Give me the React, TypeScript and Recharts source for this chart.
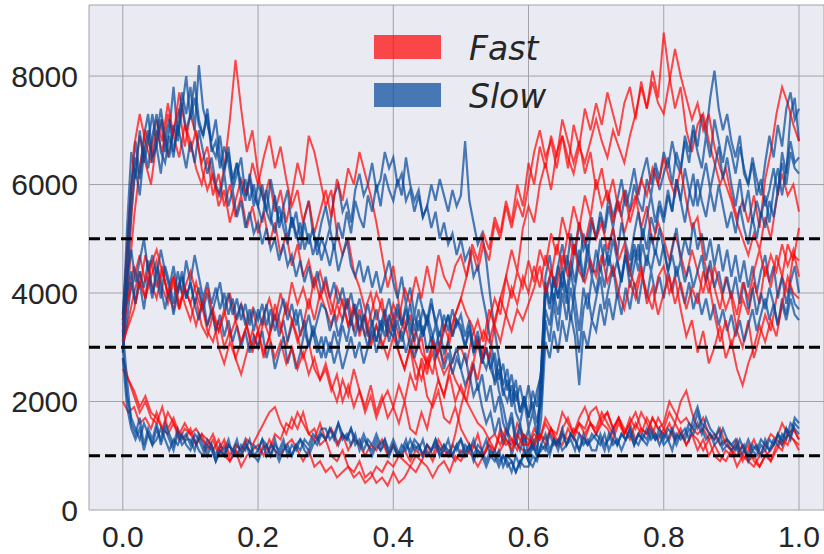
import React from "react";
import {
  LineChart,
  Line,
  XAxis,
  YAxis,
  CartesianGrid,
  ReferenceLine,
} from "recharts";

// slow runs: 161 samples each over t = 0..1 (16 per row = 0.1 of t)
const slow1 = [
  3100, 4500, 5900, 6800, 6200, 6900, 7300, 6500, 6700, 7200, 6600, 7000, 7800, 6900, 7400, 8000,
  7200, 7600, 7100, 6900, 7300, 6600, 6800, 6300, 6700, 6400, 5900, 6200, 6500, 5800, 6100, 5600,
  6000, 5800, 5500, 6100, 5700, 5300, 5600, 5900, 5200, 5500, 5000, 5400, 5700, 5100, 4900, 5300,
  5600, 5200, 5800, 6000, 5500, 5700, 5300, 5900, 6200, 5800, 6000, 6400, 5900, 6100, 6600, 6300,
  6500, 6000, 6200, 5700, 5900, 5500, 5800, 5400, 5600, 6000, 5700, 6100, 5800, 5500, 5900, 5600,
  5800, 6800, 5700, 5300, 4900, 5100, 4600, 3900, 3300, 2800, 2300, 2600, 2000, 2400, 1800, 2100,
  1700, 2200, 1900, 2600, 4300, 4700, 4100, 4500, 4900, 4400, 5100, 4700, 5300, 4800, 5000, 5400,
  5000, 5500, 5200, 5800, 5400, 5700, 6100, 5600, 5900, 6300, 5800, 6200, 6500, 6000, 6400, 6100,
  6600, 6300, 6800, 6400, 6200, 6900, 6600, 7100, 6700, 7300, 6900, 7600, 8100, 7400, 7000, 7300,
  6800, 6500, 6900, 6200, 6000, 6400, 5800, 6100, 5600, 5900, 6300, 5800, 6600, 6200, 7300, 7600,
  6800,
];
const slow2 = [
  3400, 5200, 6600, 6100, 7000, 6400, 6800, 7300, 6700, 6200, 6900, 6500, 7100, 6800, 7500, 7000,
  7300, 7900, 7200, 6900, 7400, 6700, 6500, 6900, 6300, 6600, 6100, 6400, 6000, 5700, 6200, 5800,
  5600, 6000, 5500, 5300, 5800, 5200, 5500, 5000, 5400, 5100, 4800, 5300, 4900, 5200, 4700, 5000,
  4800, 4500, 4900, 4400, 4700, 5000, 4500, 4300, 4600, 4200, 4500, 4100, 4400, 4000, 4300, 4600,
  4200, 3900, 4300, 3800, 4100, 3600, 4000, 3700, 3500, 3900, 3400, 3700, 3300, 3600, 3200, 3500,
  3300, 3000, 3400, 2900, 3100, 2700, 3000, 2600, 2400, 2800, 2200, 2000, 2300, 1800, 1600, 2000,
  1500, 1800, 1400, 2400, 3900, 4300, 3800, 4500, 4100, 4700, 4300, 4900, 4500, 5100, 4700, 5300,
  5000, 5400, 5100, 5600, 5200, 5700, 5400, 5900, 5500, 6000, 5700, 5500, 6100, 5800, 6300, 5900,
  6200, 6500, 6000, 6600, 6300, 6800, 6400, 7000, 6600, 6300, 6900, 6500, 7200, 6800, 6400, 6900,
  6600, 6200, 6700, 6300, 6000, 6500, 6100, 5800, 6400, 6900, 6500, 7100, 6700, 7400, 7700, 7200,
  7400,
];
const slow3 = [
  2900, 4100, 5500, 6300, 5800, 6600, 7000, 6400, 6900, 7400, 6800, 7200, 6600, 7100, 7700, 7300,
  7800, 7000, 8200, 7400, 7100, 6800, 7200, 6500, 6200, 6700, 6000, 6400, 5800, 6100, 5700, 6000,
  5600, 5300, 5900, 5400, 5100, 5600, 5200, 4900, 5400, 5000, 5300, 4800, 5100, 4700, 5000, 4600,
  4900, 5200, 4800, 5300, 5000, 5500, 5100, 5700, 5400, 5200, 5800, 5500, 6000, 5600, 6200, 5900,
  5700, 6100, 5800, 6500, 6000, 5700, 5900, 5400, 5600, 5200, 5500, 5000, 5300, 4900, 5100, 4700,
  5000, 4600, 4800, 4300, 4500, 4000, 3600, 3100, 2700, 2200, 1900, 1500, 1800, 1300, 1600, 1200,
  1500, 1100, 1400, 2000, 3700, 3400, 4000, 3600, 4200, 3800, 4400, 3900, 3300, 4100, 3700, 4300,
  4000, 4500, 4100, 4700, 4300, 4600, 4200, 4800, 4400, 4900, 4600, 5200, 4800, 5400, 5100, 5600,
  5300, 5800, 5500, 6100, 5700, 6300, 5900, 5600, 6100, 5700, 5400, 5900, 5500, 6000, 5600, 5200,
  5500, 5100, 5600, 5200, 4900, 5400, 5000, 5500, 5200, 5700, 5400, 5900, 6400, 6000, 6600, 6300,
  6200,
];
const slow4 = [
  3600, 4800, 6000, 6500, 6100, 6700, 6300, 6900, 7300, 6600, 6400, 6900, 6500, 7100, 6700, 6300,
  6800, 6400, 7000, 6600, 6200, 6500, 6000, 5800, 6200, 5600, 5900, 5400, 5700, 5200, 5500, 5100,
  5300, 4900, 5200, 4800, 5000, 4600, 4900, 4500, 4700, 4300, 4600, 4200, 4500, 4100, 4400, 4000,
  4300, 3900, 4200, 3800, 4100, 3700, 4000, 3600, 3900, 3500, 3800, 3400, 3700, 3300, 3600, 3900,
  3500, 3800, 3400, 3700, 3200, 3600, 3300, 3700, 3400, 3800, 3500, 3200, 3600, 3300, 3700, 3400,
  3600, 3200, 3500, 3000, 3300, 2800, 2600, 2900, 2300, 2600, 2100, 2400, 1900, 2200, 1800, 2100,
  1700, 2000, 1600, 2100, 3500, 3100, 3800, 3300, 4000, 3500, 4100, 3600, 2900, 3700, 4000, 3500,
  3900, 4300, 3700, 4100, 4500, 3900, 4300, 4700, 4100, 4500, 4900, 4300, 4700, 4400, 4800, 4500,
  4900, 4400, 4800, 5200, 4600, 5000, 4700, 5300, 4800, 5100, 4600, 5000, 4500, 4900, 4400, 4800,
  4300, 4700, 4200, 4600, 4100, 4500, 4000, 4400, 4700, 4200, 4500, 3900, 4300, 3800, 4200, 4500,
  4000,
];
const slow5 = [
  3000, 3500, 4200, 3800, 4400, 4100, 4600, 4000, 4300, 3900, 4500, 4200, 3800, 4400, 4000, 4600,
  4200, 4700, 4300, 3900, 4200, 3800, 4100, 3700, 4000, 3600, 3900, 3500, 3800, 3400, 3700, 3300,
  3700, 3400, 3800, 3300, 3600, 3200, 3500, 3100, 3400, 3700, 3200, 3500, 3000, 3300, 2900, 3200,
  2800, 3100, 2700, 3000, 2600, 2900, 3200, 2800, 3100, 2700, 3000, 3300, 2900, 3200, 3500, 3100,
  3400, 3000, 3300, 2900, 3200, 2800, 3100, 3400, 2900, 3200, 2800, 3000, 2600, 2900, 2500, 2800,
  2600, 2300, 2500, 2100, 2300, 1900, 1600, 1800, 1400, 1700, 1200, 1500, 1000, 1300, 1100, 1400,
  1000, 1300, 1100, 1700, 3100, 2800, 3300, 2900, 3500, 3100, 3600, 3200, 2300, 3300, 3000, 3500,
  3300, 3800, 3400, 3900, 3500, 4000, 3600, 4100, 3700, 4200, 3800, 4300, 3900, 4400, 4000, 4300,
  3900, 4400, 4000, 4500, 4100, 3800, 4200, 3700, 4000, 3600, 3900, 3500, 3800, 3400, 3700, 3300,
  3600, 3200, 3500, 3100, 3400, 3700, 3300, 3600, 3900, 3500, 3800, 3400, 3900, 3600, 4100, 3800,
  3700,
];
const slow6 = [
  3300, 4000, 4400, 3800, 4200, 3700, 4300, 3900, 4500, 4100, 3700, 4100, 3600, 4000, 4400, 3900,
  4200, 3800, 3500, 3900, 3400, 3700, 3300, 3600, 3200, 3500, 3100, 3400, 3000, 3300, 2900, 3200,
  3000, 3300, 2800, 3100, 2600, 2900, 3200, 2700, 3000, 2600, 2900, 3300, 3000, 3400, 3100, 2800,
  3200, 2900, 3300, 3000, 3400, 3100, 3500, 3200, 3600, 3300, 3000, 3400, 3100, 3500, 3200, 3600,
  3300, 3700, 3400, 3800, 3400, 3100, 3500, 3200, 3600, 3300, 3000, 3300, 2900, 3100, 2700, 3000,
  2600, 2900, 2400, 2700, 2200, 2500, 2000, 2300, 1800, 2100, 1600, 1400, 1700, 1200, 1500, 1100,
  900, 1200, 1000, 2600, 4200, 3800, 4300, 3900, 4400, 4000, 3500, 4100, 4600, 4200, 4700, 4300,
  4800, 4400, 4900, 4500, 5000, 4600, 4200, 4700, 4300, 4800, 4400, 4900, 4500, 5100, 4700, 5200,
  4800, 4400, 4700, 4300, 4600, 4200, 4500, 4100, 4400, 4700, 4200, 4600, 4100, 4400, 4000, 4300,
  3900, 4300, 3800, 4200, 3700, 4100, 3600, 4000, 3700, 4100, 3800, 3400, 3800, 3500, 3900, 3600,
  3500,
];
const slow7 = [
  3500, 4300, 4800, 4200, 4600, 5000, 4400, 4700, 4300, 4800, 4400, 4100, 4500, 4000, 4300, 3900,
  4200, 3800, 4100, 3700, 4000, 3600, 3900, 4200, 3700, 4000, 3600, 3900, 3500, 3800, 3400, 3700,
  3500, 3800, 3400, 3700, 3300, 3600, 3900, 3500, 3800, 3400, 3700, 3300, 3600, 3200, 3500, 3800,
  3700, 3300, 3600, 3200, 3500, 3900, 3400, 3800, 3300, 3600, 3200, 3500, 3100, 3400, 3700, 3300,
  3200, 3500, 3100, 3400, 3800, 3300, 3700, 3200, 3500, 3100, 3400, 3000, 3300, 3600, 3200, 3500,
  3400, 3000, 3300, 2900, 3200, 2700, 3000, 2600, 2900, 2400, 2700, 2200, 2500, 2000, 2300, 1900,
  2300, 1800, 2200, 2500, 4100, 3700, 4300, 3900, 4500, 4000, 4600, 4200, 4800, 4300, 4900, 4400,
  4400, 5000, 4500, 4800, 5200, 4700, 5300, 4900, 4600, 5100, 5500, 5000, 5400, 5800, 5300, 5700,
  5400, 5900, 5500, 6100, 5700, 5300, 5800, 6200, 5600, 6000, 6400, 5900, 6300, 6700, 6100, 6500,
  6000, 5600, 6100, 5500, 5900, 5300, 5700, 5400, 5800, 5300, 5900, 6300, 5800, 6300, 6800, 6400,
  6500,
];
const slow8 = [
  3000, 2100, 1700, 1500, 1300, 1600, 1400, 1200, 1500, 1300, 1600, 1400, 1200, 1500, 1300, 1400,
  1200, 1400, 1300, 1100, 1300, 1200, 1000, 1200, 1100, 1300, 1000, 1200, 1100, 1300, 1000, 1200,
  1100, 1300, 1200, 1000, 1200, 1100, 1300, 1000, 1200, 1100, 1300, 1200, 1100, 1300, 1200, 1400,
  1300, 1500, 1400, 1200, 1400, 1300, 1500, 1300, 1200, 1400, 1200, 1100, 1300, 1100, 1200, 1000,
  1200, 1000, 1200, 1100, 1300, 1100, 1200, 1000, 1200, 1100, 1300, 1100, 1200, 1000, 1200, 1100,
  1300, 1100, 1200, 1000, 1200, 1100, 900, 1100, 1000, 800, 1000, 900, 700, 1000, 800, 1100,
  900, 800, 1000, 1100, 1200, 1000, 1300, 1100, 1400, 1200, 1300, 1100, 1400, 1200, 1300, 1100,
  1100, 1400, 1200, 1300, 1500, 1200, 1400, 1300, 1500, 1200, 1400, 1300, 1200, 1400, 1300, 1500,
  1300, 1500, 1400, 1200, 1400, 1300, 1500, 1400, 1600, 1400, 1700, 1500, 1400, 1300, 1500, 1300,
  1200, 1100, 1300, 1100, 1000, 1200, 1100, 1300, 1200, 1100, 1300, 1200, 1400, 1300, 1600, 1500,
  1400,
];
const slow9 = [
  3300, 2400, 1600, 1400, 1700, 1200, 1500, 1300, 1600, 1200, 1500, 1300, 1100, 1400, 1200, 1300,
  1300, 1100, 1400, 1200, 1000, 1200, 900, 1100, 1000, 1200, 1100, 1000, 1200, 1100, 1300, 1000,
  1100, 1300, 1000, 1200, 1100, 900, 1100, 1200, 1000, 1200, 1100, 1300, 1200, 1400, 1300, 1500,
  1500, 1300, 1400, 1600, 1300, 1400, 1200, 1400, 1100, 1300, 1200, 1000, 1200, 1100, 1300, 1000,
  1200, 1000, 1100, 1300, 1000, 1200, 1100, 1300, 1000, 1100, 1200, 1000, 1100, 1300, 1000, 1200,
  1300, 1000, 1200, 900, 1100, 1000, 800, 1000, 900, 1100, 800, 1000, 900, 700, 900, 800,
  800, 1000, 900, 1200, 1100, 1400, 1200, 1300, 1100, 1200, 1400, 1300, 1100, 1300, 1200, 1400,
  1300, 1200, 1400, 1100, 1300, 1200, 1400, 1300, 1500, 1300, 1200, 1400, 1300, 1500, 1300, 1400,
  1200, 1300, 1100, 1400, 1300, 1400, 1600, 1500, 1800, 1500, 1300, 1400, 1200, 1300, 1100, 1200,
  1100, 1200, 1000, 1100, 1300, 1100, 1200, 1000, 1300, 1100, 1200, 1400, 1200, 1500, 1300, 1600,
  1500,
];
const slow10 = [
  2800, 1900, 1500, 1300, 1500, 1100, 1400, 1200, 1300, 1500, 1300, 1100, 1300, 1200, 1400, 1200,
  1100, 1300, 1100, 1000, 1200, 1100, 900, 1100, 1000, 1200, 1100, 1300, 1000, 1200, 1100, 1000,
  900, 1100, 1200, 1000, 1300, 1000, 1200, 1100, 1000, 1200, 1300, 1100, 1000, 1200, 1300, 1400,
  1300, 1500, 1300, 1600, 1400, 1300, 1500, 1200, 1300, 1100, 1300, 1200, 1400, 1200, 1300, 1100,
  1300, 1100, 1000, 1200, 1100, 1300, 1200, 1000, 1200, 1100, 1300, 1000, 1200, 1100, 1000, 1200,
  1000, 1200, 1100, 1300, 1000, 1100, 1300, 1000, 1100, 900, 1000, 800, 900, 700, 900, 1000,
  1100, 1200, 1000, 1200, 1400, 1100, 1300, 1200, 1500, 1200, 1400, 1300, 1100, 1400, 1200, 1300,
  1400, 1300, 1100, 1400, 1200, 1300, 1100, 1300, 1400, 1200, 1400, 1300, 1500, 1300, 1400, 1200,
  1400, 1300, 1500, 1300, 1400, 1500, 1300, 1700, 1900, 1600, 1500, 1400, 1300, 1500, 1200, 1300,
  1200, 1300, 1100, 1200, 900, 1100, 1000, 1200, 1100, 1300, 1200, 1400, 1300, 1500, 1400, 1700,
  1600,
];

// fast runs: 121 samples each over t = 0..1 (12 per row = 0.1 of t)
const fast1 = [
  3200, 4600, 6100, 6900, 6400, 6000, 6800, 7200, 6500, 7000, 7400, 6700,
  7300, 6900, 6400, 6700, 6100, 5800, 6300, 7200, 8300, 7400, 6600, 7000,
  6200, 5700, 6100, 5500, 5900, 5300, 5800, 6400, 6000, 6900, 6600, 6100,
  5600, 5900, 5100, 4700, 5000, 4400, 4100, 3700, 4000, 3500, 3900, 3200,
  3500, 2900, 2600, 3000, 2400, 2700, 2100, 1900, 2200, 1700, 1600, 1900,
  1500, 1300, 1100, 1400, 1000, 1200, 1100, 1500, 1300, 1200, 1600, 1400,
  1200, 1500, 1300, 1700, 1500, 1400, 1800, 1600, 1400, 1700, 1900, 1600,
  1500, 1800, 1600, 1400, 1700, 1500, 1300, 1600, 1400, 1700, 1500, 1300,
  1500, 1300, 1600, 1400, 1200, 1400, 1300, 1100, 1300, 1000, 900, 1100,
  1000, 1200, 900, 1100, 1300, 1000, 1200, 1400, 1300, 1600, 1400, 1500,
  1300,
];
const fast2 = [
  2900, 4200, 5400, 6300, 7000, 6600, 7200, 6800, 7500, 6900, 7700, 7100,
  6600, 7000, 6300, 5900, 6200, 5600, 5900, 5300, 5700, 6100, 5800, 6400,
  6000, 6500, 6900, 6300, 6700, 6100, 5600, 5900, 5300, 5700, 5100, 5500,
  5900, 5400, 6100, 5700, 6300, 6000, 6600, 6200, 5800, 5300, 4700, 4100,
  4500, 3800, 3300, 3600, 2900, 3200, 2600, 2900, 2400, 2100, 2500, 2000,
  2300, 2000, 2600, 3100, 2800, 3500, 3900, 3600, 4300, 4800, 4400, 5200,
  5600, 5300, 6000, 6400, 5900, 6600, 6900, 6300, 7100, 6700, 7400, 7000,
  7500, 7100, 7700, 7300, 6900, 7500, 7800, 7200, 7900, 7400, 8100, 7600,
  8800, 8000, 7400, 7800, 7000, 6600, 7100, 7300, 6800, 6400, 6000, 6300,
  5800, 5400, 5700, 5300, 5800, 5200, 6100, 6600, 7300, 7800, 7500, 7100,
  6800,
];
const fast3 = [
  3500, 5200, 6700, 7300, 6800, 6400, 7000, 6600, 7300, 6900, 6500, 7100,
  6800, 6300, 6000, 6500, 5800, 6200, 5600, 6000, 5400, 5800, 5200, 5600,
  5100, 5500, 4900, 5300, 4700, 5100, 4500, 4900, 4300, 4600, 4100, 4400,
  4000, 3600, 4100, 3800, 3400, 3800, 3200, 3600, 3000, 3400, 3100, 2800,
  3200, 2900, 2600, 3000, 2700, 2400, 2800, 2500, 3100, 2700, 3300, 3600,
  3900, 4300, 4800, 4400, 4900, 4600, 5300, 5000, 5600, 5200, 5700, 5400,
  6000, 6600, 7000, 6500, 6800, 6300, 6900, 6500, 6200, 6700, 6400, 6800,
  7200, 6800, 6500, 7000, 6700, 6400, 6900, 7300, 7800, 7400, 7900, 7500,
  7300, 7900, 8500, 8000, 7600, 7200, 7500, 7000, 7300, 6700, 6300, 6000,
  5700, 5300, 5000, 4700, 5100, 4800, 5400, 5000, 5700, 6200, 5800, 6000,
  5500,
];
const fast4 = [
  3300, 4000, 4500, 4100, 4700, 4200, 3900, 4400, 4000, 3700, 4200, 3800,
  3500, 3900, 3400, 3200, 3600, 3000, 2700, 3100, 2800, 2500, 2900, 3300,
  3000, 3500, 3200, 3800, 3400, 3000, 3500, 3200, 2800, 3100, 2600, 2400,
  2700, 2300, 2000, 2400, 2100, 2600, 2200, 1900, 2300, 1800, 2100, 1700,
  1900, 1600, 2000, 1500, 1400, 1800, 1500, 2000, 2400, 2100, 2600, 2900,
  3000, 2700, 3200, 3500, 3100, 3700, 3400, 3900, 4300, 3900, 4400, 4100,
  4600, 4200, 4800, 4500, 5100, 4700, 5400, 5000, 5600, 5200, 5800, 5400,
  6100, 5600, 5900, 5300, 5700, 5100, 5500, 5800, 5200, 5600, 4900, 5300,
  5000, 4600, 5100, 4700, 4300, 4800, 4400, 4000, 4500, 4100, 3700, 4300,
  3900, 3300, 3000, 3500, 2800, 3200, 3600, 3300, 3900, 4300, 4000, 4700,
  4600,
];
const fast5 = [
  3000, 3500, 4000, 4400, 3900, 4300, 4600, 4100, 3800, 4200, 3700, 4100,
  3800, 4200, 3800, 3400, 3700, 3300, 3600, 4000, 3500, 3800, 3400, 3700,
  3300, 3600, 3900, 3500, 4000, 3600, 4200, 3800, 4100, 3700, 4300, 3900,
  4200, 3800, 3500, 3900, 3400, 3700, 3300, 3600, 3100, 3400, 3000, 3300,
  3600, 3200, 3500, 3000, 3300, 2900, 2700, 3100, 2800, 2500, 2700, 2400,
  2200, 2000, 1800, 1600, 1500, 1300, 1400, 1200, 1500, 1300, 1200, 1100,
  1100, 1300, 1400, 1200, 1500, 1300, 1200, 1500, 1300, 1600, 1400, 1600,
  1400, 1700, 1800, 1500, 1700, 1400, 1600, 1800, 1500, 1400, 1700, 1500,
  1600, 2000, 1800, 1600, 1700, 1500, 1400, 1500, 1300, 1400, 1200, 1300,
  1100, 1000, 1200, 900, 1000, 800, 1000, 1100, 1300, 1200, 1400, 1300,
  1100,
];
const fast6 = [
  3600, 3900, 4300, 4700, 4200, 4600, 4100, 4500, 3900, 4300, 3700, 4100,
  3800, 3400, 3800, 3300, 3100, 3500, 3000, 3300, 2800, 3100, 3400, 2900,
  3300, 2800, 3200, 3600, 3300, 3800, 3500, 3100, 3400, 3900, 3500, 4000,
  3700, 3400, 3800, 3500, 3900, 3300, 3700, 3200, 3600, 4000, 3700, 3400,
  3800, 3500, 4100, 3800, 4300, 3900, 4500, 4000, 4700, 4300, 4100, 4500,
  4700, 4300, 4900, 4600, 5100, 4800, 5400, 5100, 5700, 5300, 6000, 5600,
  6400, 6000, 6700, 6300, 6900, 6500, 7200, 6800, 6400, 6800, 6200, 6600,
  5900, 6300, 5700, 6100, 5500, 5900, 5300, 5700, 6100, 5800, 6300, 6000,
  6500, 6100, 5800, 6300, 5700, 5200, 5400, 4700, 4200, 3600, 3100, 3500,
  3000, 3400, 3900, 3600, 4200, 3800, 4500, 4100, 4700, 4300, 4900, 4600,
  5200,
];
const fast7 = [
  2000, 1800, 1900, 1600, 1700, 1500, 1800, 1500, 1400, 1600, 1300, 1500,
  1400, 1200, 1400, 1100, 1300, 1000, 1200, 900, 1100, 1000, 1200, 1000,
  1000, 1200, 1100, 1400, 1300, 1600, 1500, 1800, 1600, 1400, 1500, 1200,
  1300, 1000, 900, 1100, 800, 700, 900, 600, 700, 500, 600, 450,
  700, 500, 600, 800, 700, 900, 800, 600, 800, 900, 700, 1000,
  900, 1100, 1000, 800, 1000, 1200, 1000, 1100, 1300, 1100, 1400, 1200,
  1200, 1400, 1300, 1600, 1400, 1200, 1500, 1700, 1400, 1600, 1500, 1800,
  1900, 1600, 1800, 1500, 1700, 1400, 1600, 1300, 1500, 1400, 1700, 1500,
  1400, 1600, 1300, 1500, 1200, 1400, 1100, 1300, 1000, 1200, 1000, 900,
  1100, 800, 1000, 900, 800, 1000, 1100, 900, 1200, 1100, 1400, 1300,
  1200,
];
const fast8 = [
  2800, 2400, 2100, 1800, 2000, 1700, 1600, 1900, 1500, 1700, 1400, 1300,
  1500, 1200, 1400, 1300, 1100, 1300, 1000, 900, 1100, 800, 1000, 1100,
  1200, 1000, 1300, 1100, 1000, 1200, 1300, 1100, 900, 1100, 800, 900,
  700, 800, 600, 700, 800, 600, 700, 500, 600, 800, 700, 900,
  800, 1000, 900, 800, 1000, 900, 1100, 900, 1200, 1000, 1100, 900,
  1100, 1000, 1200, 1100, 1000, 1300, 1100, 1400, 1200, 1300, 1100, 1400,
  1300, 1200, 1400, 1300, 1500, 1200, 1400, 1300, 1500, 1400, 1300, 1600,
  1400, 1600, 1500, 1300, 1600, 1400, 1700, 1500, 1800, 1600, 1400, 1700,
  1500, 1800, 1600, 2000, 2200, 1800, 1500, 1700, 1400, 1300, 1500, 1200,
  1100, 1300, 1000, 1200, 900, 800, 1000, 900, 1100, 1300, 1200, 1500,
  1300,
];
const fast9 = [
  2600, 2400, 2200, 1900, 2100, 1800, 1700, 1500, 1800, 1600, 1400, 1600,
  1400, 1500, 1300, 1200, 1400, 1100, 1300, 1000, 1200, 1100, 1300, 1200,
  1400, 1600, 1800, 1900, 1600, 1400, 1700, 1500, 1800, 1400, 1300, 1600,
  1300, 1500, 1200, 1400, 1100, 1300, 1200, 1000, 1200, 1100, 1300, 1000,
  1200, 1000, 1100, 900, 1100, 1000, 1200, 1000, 1300, 1100, 1000, 1400,
  1900, 2300, 2700, 2400, 3000, 2800, 3400, 3100, 3600, 3300, 3700, 3500,
  3800, 4100, 4500, 4000, 4400, 4100, 4700, 4300, 4900, 4400, 4200, 4600,
  4300, 4700, 4200, 4500, 4000, 3700, 4200, 3900, 4400, 4000, 3700, 4300,
  4500, 4000, 4300, 3700, 3200, 3500, 2900, 3300, 2700, 3000, 3400, 2800,
  3100, 2600, 2300, 2700, 3000, 3400, 3100, 3500, 3200, 3800, 4300, 4000,
  3900,
];
const fast10 = [
  3100, 3400, 3700, 4200, 3900, 4500, 4800, 4400, 4000, 4300, 3800, 4100,
  4400, 4000, 3700, 4100, 3600, 3300, 3700, 3200, 3500, 3100, 3400, 3000,
  3300, 2900, 3200, 2800, 3100, 2700, 3000, 2600, 2900, 2500, 2800, 2400,
  2600, 2200, 2500, 2000, 2300, 1900, 2200, 1800, 2100, 1700, 2000, 2200,
  1900, 2300, 2000, 2500, 2200, 2800, 2500, 3100, 2900, 3400, 3100, 3600,
  3900, 3600, 3400, 3000, 3300, 3100, 3500, 3900, 3600, 4100, 3800, 4300,
  4000, 4500, 4100, 4700, 4300, 4900, 4500, 5100, 4700, 5300, 4900, 5400,
  5000, 5300, 4800, 5200, 4600, 4900, 4400, 4100, 4500, 3800, 4100, 3600,
  4000, 4300, 3800, 4200, 3700, 4100, 3800, 4400, 4000, 4500, 4100, 3700,
  4000, 3600, 4200, 3900, 4400, 4800, 4300, 4700, 4400, 4900, 4500, 4800,
  4300,
];

const slowRuns = [slow1, slow2, slow3, slow4, slow5, slow6, slow7, slow8, slow9, slow10];
const fastRuns = [fast1, fast2, fast3, fast4, fast5, fast6, fast7, fast8, fast9, fast10];

const xTicks = [0, 0.2, 0.4, 0.6, 0.8, 1.0];
const yTicks = [0, 2000, 4000, 6000, 8000];
const thresholds = [1000, 3000, 5000];

const FAST_COLOR = "#ff0000";
const SLOW_COLOR = "#034799";

// spread samples evenly over t in [0, 1]
const toPoints = (ys: number[]) =>
  ys.map((y, i) => ({ t: i / (ys.length - 1), y }));

const tickStyle = {
  fontFamily: "Liberation Sans",
  fontSize: 30,
  fill: "#262626",
};

const legendText: React.CSSProperties = {
  position: "absolute",
  left: 469,
  fontFamily: "DejaVu Sans",
  fontStyle: "italic",
  fontSize: 33,
  lineHeight: "33px",
  color: "#262626",
};

export default function App() {
  // alternate slow / fast so neither colour sits fully on top
  const series: { key: string; data: { t: number; y: number }[]; color: string; width: number }[] = [];
  for (let i = 0; i < slowRuns.length; i++) {
    series.push({ key: `fast-${i}`, data: toPoints(fastRuns[i]), color: FAST_COLOR, width: 2 });
    series.push({ key: `slow-${i}`, data: toPoints(slowRuns[i]), color: SLOW_COLOR, width: 2.2 });
  }

  return (
    <div style={{ position: "absolute", left: 0, top: 0, width: 824, height: 554 }}>
      <LineChart width={824} height={554} margin={{ top: 5, right: 0, bottom: 0, left: 0 }}>
        <CartesianGrid fill="#eaeaf2" stroke="#a2a2a8" strokeWidth={1} />
        <XAxis
          dataKey="t"
          type="number"
          domain={[-0.05, 1.037]}
          ticks={xTicks}
          tickFormatter={(v: number) => v.toFixed(1)}
          axisLine={false}
          tickLine={false}
          tickSize={0}
          tickMargin={16}
          height={44}
          tick={tickStyle}
          allowDataOverflow
        />
        <YAxis
          type="number"
          domain={[0, 9310]}
          ticks={yTicks}
          axisLine={false}
          tickLine={false}
          tickSize={0}
          tickMargin={11}
          width={89}
          tick={tickStyle}
          allowDataOverflow
        />
        {series.map((s) => (
          <Line
            key={s.key}
            data={s.data}
            dataKey="y"
            type="linear"
            stroke={s.color}
            strokeOpacity={0.7}
            strokeWidth={s.width}
            dot={false}
            activeDot={false}
            isAnimationActive={false}
          />
        ))}
        {thresholds.map((v) => (
          <ReferenceLine
            key={v}
            y={v}
            stroke="#000"
            strokeWidth={3}
            strokeDasharray="11 5"
          />
        ))}
      </LineChart>

      {/* legend */}
      <div style={{ position: "absolute", left: 374, top: 35, width: 67, height: 24, background: "rgba(255,0,0,0.7)" }} />
      <div style={{ position: "absolute", left: 374, top: 83, width: 67, height: 24, background: "rgba(3,71,153,0.7)" }} />
      <div style={{ ...legendText, top: 32 }}>Fast</div>
      <div style={{ ...legendText, top: 80 }}>Slow</div>
    </div>
  );
}
